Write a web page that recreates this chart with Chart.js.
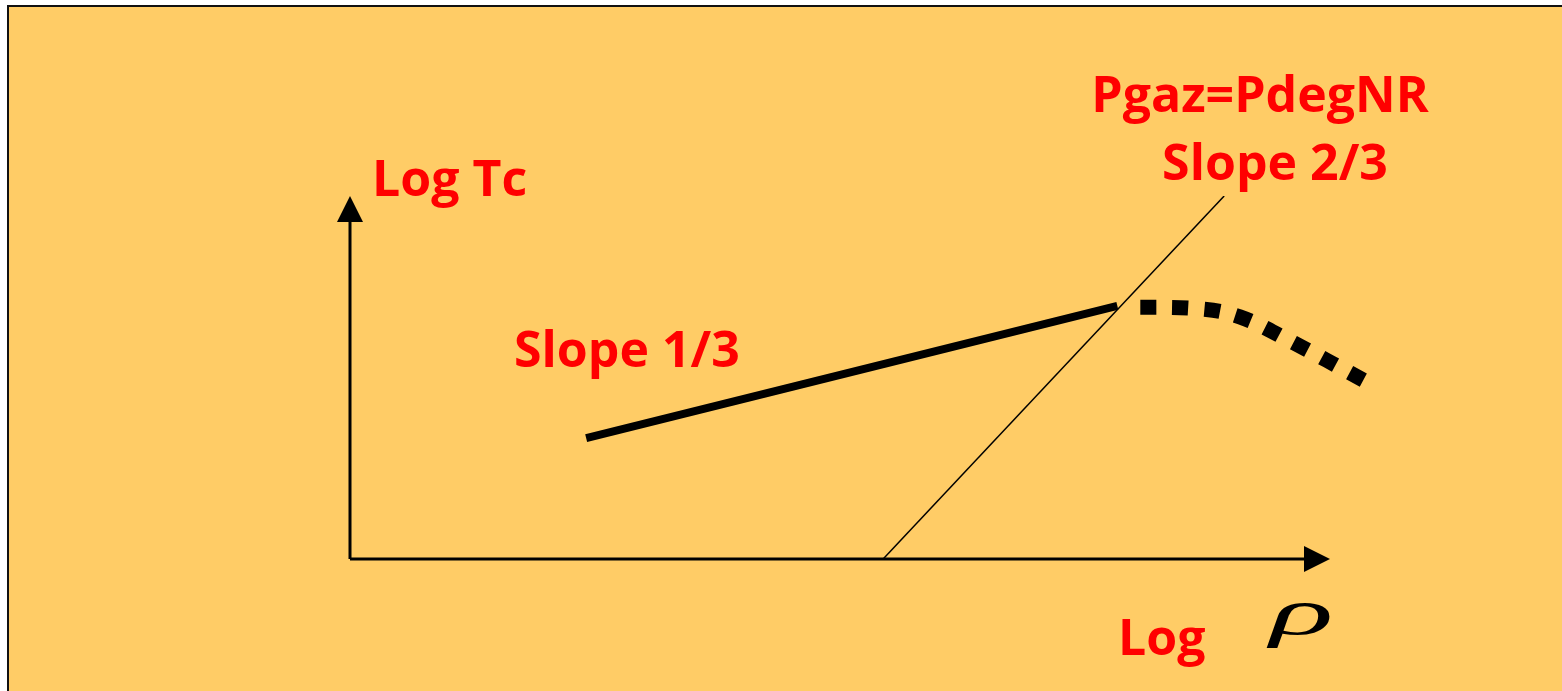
<!DOCTYPE html>
<html>
<head>
<meta charset="utf-8">
<title>Log Tc vs Log rho</title>
<script src="https://cdn.jsdelivr.net/npm/chart.js@4.4.0/dist/chart.umd.min.js"></script>
<style>
  html, body { margin: 0; padding: 0; background: #ffffff; }
  #wrap { width: 1562px; height: 691px; }
</style>
</head>
<body>
<div id="wrap"><canvas id="diagram" width="1562" height="691"></canvas></div>
<script>
// axes run 0..100 on both scales (log rho across, log Tc up)
const slopeOneThird = [
  { x: 24.1, y: 33.3 },
  { x: 78.3, y: 69.7 }
];
const slopeTwoThirds = [
  { x: 54.4, y: 0 },
  { x: 89.2, y: 100 }
];
const degenerateBend = [
  { x: 79.0, y: 69.4 },
  { x: 86.7, y: 68.9 },
  { x: 90.8, y: 66.7 },
  { x: 95.9, y: 60.1 },
  { x: 103.4, y: 49.3 }
];
const labels = {
  yAxis: 'Log Tc',
  xAxis: 'Log',
  rho: '\u03C1',
  lowSlope: 'Slope 1/3',
  crossing: 'Pgaz=PdegNR',
  highSlope: 'Slope 2/3'
};

const RED = '#ff0000';
const LABEL_FONT = 'bold 50px "Open Sans", sans-serif';

// background box, arrows and labels around the plot
const decorations = {
  id: 'decorations',
  beforeDraw(chart) {
    const c = chart.ctx;
    c.save();
    c.fillStyle = '#ffffff';
    c.fillRect(0, 0, chart.width, chart.height);
    c.fillStyle = '#ffcc66';
    c.fillRect(8, 6, chart.width, chart.height);
    c.strokeStyle = '#111111';
    c.lineWidth = 2;
    c.strokeRect(8, 6, chart.width + 20, chart.height + 20);
    c.restore();
  },
  afterDatasetsDraw(chart) {
    const c = chart.ctx;
    const a = chart.chartArea;
    c.save();
    c.strokeStyle = '#000';
    c.fillStyle = '#000';
    c.lineWidth = 3;
    // vertical axis
    c.beginPath();
    c.moveTo(a.left, a.bottom);
    c.lineTo(a.left, a.top + 24);
    c.stroke();
    c.beginPath();
    c.moveTo(a.left, a.top);
    c.lineTo(a.left - 13, a.top + 26);
    c.lineTo(a.left + 13, a.top + 26);
    c.closePath();
    c.fill();
    // horizontal axis
    c.beginPath();
    c.moveTo(a.left, a.bottom);
    c.lineTo(a.right - 24, a.bottom);
    c.stroke();
    c.beginPath();
    c.moveTo(a.right, a.bottom);
    c.lineTo(a.right - 26, a.bottom - 13);
    c.lineTo(a.right - 26, a.bottom + 13);
    c.closePath();
    c.fill();

    c.fillStyle = RED;
    c.font = LABEL_FONT;
    c.textBaseline = 'alphabetic';
    c.textAlign = 'left';
    c.fillText(labels.yAxis, a.left + 22, 196);
    c.fillText(labels.lowSlope, 514, 367);
    c.fillText(labels.xAxis, 1118, 655);
    c.textAlign = 'center';
    c.fillText(labels.crossing, 1260, 112);
    c.fillText(labels.highSlope, 1275, 180);

    // rho symbol, wide italic serif
    c.fillStyle = '#000';
    c.textAlign = 'left';
    c.translate(1270, 634);
    c.scale(2.0, 1);
    c.font = 'italic 66px "Liberation Serif", serif';
    c.fillText(labels.rho, 0, 0);
    c.restore();
  }
};

new Chart(document.getElementById('diagram').getContext('2d'), {
  type: 'scatter',
  data: {
    datasets: [
      {
        label: 'slope 1/3',
        data: slopeOneThird,
        showLine: true,
        borderColor: '#000',
        borderWidth: 8,
        pointRadius: 0
      },
      {
        label: 'slope 2/3',
        data: slopeTwoThirds,
        showLine: true,
        borderColor: '#000',
        borderWidth: 1.5,
        pointRadius: 0
      },
      {
        label: 'bend',
        data: degenerateBend,
        showLine: true,
        borderColor: '#000',
        borderWidth: 15,
        borderDash: [16, 16],
        borderDashOffset: 16,
        borderCapStyle: 'butt',
        tension: 0.4,
        pointRadius: 0,
        clip: false
      }
    ]
  },
  options: {
    responsive: false,
    animation: false,
    layout: { padding: { left: 350, right: 232, top: 196, bottom: 132 } },
    scales: {
      x: { type: 'linear', min: 0, max: 100, display: false },
      y: { type: 'linear', min: 0, max: 100, display: false }
    },
    plugins: {
      legend: { display: false },
      tooltip: { enabled: false }
    }
  },
  plugins: [decorations]
});
</script>
</body>
</html>
